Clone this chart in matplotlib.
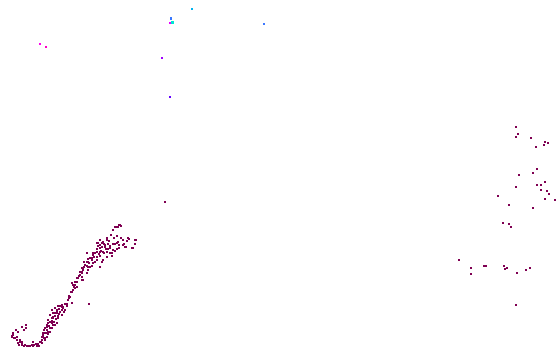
import matplotlib.pyplot as plt
import numpy as np

# main strip (bottom left), x / y in chart units
strip_x = [119.3, 116.7, 121.3, 112.7, 111, 129, 136, 107.3, 100, 101.7, 96.7, 105, 115, 126, 132.7,
           123.3, 110, 116.7, 106.7, 100, 95, 96.7, 91.7, 86.7, 110, 101.7, 95, 88.3, 85, 81.7, 90, 80,
           83.3, 80, 81.7, 76.7, 75, 76.7, 73.3, 70, 68.3, 71.7, 66.7, 63.3, 60, 55, 51.7, 65, 56.7,
           53.3, 50, 58.3, 53.3, 48.3, 51.7, 46.7, 55, 50, 45, 48.3, 43.3, 46.7, 42.7, 45, 41.7, 38.3,
           33.3, 26.7, 21.7, 18.3, 20, 15, 11.7, 16, 26, 21.7, 26,
           70.7, 69.3, 67.7, 65, 61.7, 58.3, 66.7, 63.3, 56.7, 60, 55, 61.7, 53.3, 58.3, 51.7, 56.7,
           48.3, 53.3, 46.7, 51.7, 44.3, 50, 46.7, 43.3, 41.7, 45, 41, 38.3, 36.7, 31.7, 28.3, 25, 21.7,
           18.3, 20, 16.7, 13.3, 11.7, 17.7, 25.7, 24.3, 33.3,
           120, 118.3, 115, 113.3, 111, 128.3, 135, 106.7, 103.3, 98.3, 108.3, 116.7, 105, 100, 108.3,
           113.3, 125, 96.7, 103.3, 111.7, 93.3, 100, 106.7, 90, 96.7, 103.3, 86.7, 93.3, 85, 91.7, 100,
           83.3, 88.3, 81.7, 86.7, 80, 78.3, 83.3, 75, 73.3, 76.7, 75, 71.7, 81.7, 88.3, 135, 123.3,
           119, 131.7, 89,
           98, 102, 106, 110, 113, 118, 121, 104, 99, 94, 92, 89, 87, 84, 82, 79, 77, 74, 72, 69, 62,
           59, 57, 55, 52, 50, 56, 54, 49, 47, 45, 44, 42, 40, 36, 34, 30, 24, 19, 14, 13, 97, 101,
           107, 112, 115, 119, 124, 127, 93, 88, 84, 62, 64, 59, 52, 48, 39, 22, 17, 117, 114, 109,
           104, 100]
strip_y = [224.7, 226.7, 226, 230, 235, 238.7, 239.7, 238.3, 240, 243.3, 243.3, 245, 244, 246.7, 247.7,
           245, 248.3, 249.3, 251.7, 251.7, 253.3, 256.7, 258.3, 253.3, 253.3, 261.7, 261.7, 261.7, 265,
           268.3, 266.7, 271.7, 270, 275, 280, 278.3, 285, 287.3, 290, 296.7, 300, 302.7, 304.3, 306.7,
           306, 308.3, 310, 310, 311.7, 313.3, 315, 316, 318.3, 320, 323.3, 325, 325, 328.3, 328.3,
           331.7, 333.3, 336.7, 336.7, 340, 343.3, 345, 346, 346, 345, 343.3, 341.7, 338.3, 336, 330,
           325, 327.3, 328.3,
           291.7, 296, 300, 304, 305, 306, 306, 308.3, 310, 311.7, 313.3, 315, 316.7, 318.3, 320.7,
           322.7, 323.3, 325, 326.7, 328.3, 330, 331.7, 333.3, 335, 337.3, 338.3, 341.7, 344, 346, 345,
           346, 345, 344, 342.7, 340, 336.7, 335, 336.7, 331.7, 325, 330, 341.7,
           225, 227.3, 227.3, 230, 235, 238.3, 240, 240, 241.7, 242.7, 244, 243.3, 246.7, 248.3, 249.3,
           250, 246.7, 251.7, 251.7, 253.3, 255, 256, 256.7, 258.3, 260, 260, 261.7, 262.7, 265, 266,
           266.7, 268.3, 270, 271.7, 273.3, 275, 278.3, 280, 281.7, 285, 286.7, 288.3, 283.3, 276.7,
           266.7, 244, 240, 245, 248.3, 304,
           246, 247, 249, 246, 244, 242, 238, 253, 254, 257, 260, 263, 266, 267, 273, 276, 282, 287,
           292, 298, 307, 309, 313, 316, 318, 322, 319, 322, 326, 330, 333, 338, 340, 342, 344, 345,
           346, 346, 345, 338, 333, 249, 251, 252, 256, 251, 248, 244, 241, 253, 259, 262, 310, 312,
           314, 328, 334, 346, 342, 340, 236, 238, 241, 244, 245]

# scattered group on the right
right_x = [516, 517.7, 516.3, 531.3, 545.3, 547.7, 544.3, 536.3, 537.3, 533.3, 518.7, 545.3, 541.3,
           537.3, 516.3, 541.3, 547.3, 549.3, 498.3, 545, 555.3, 508.7, 533.3, 503, 509.3, 511, 458.7,
           471.3, 470.7, 484.3, 486.3, 504.3, 506.7, 505.3, 517.3, 526.3, 529.7, 516.3, 165]
right_y = [126.7, 133.7, 136.7, 137.7, 142, 143.3, 145, 147.3, 169, 172.7, 175, 181.7, 184.7, 185.3,
           187, 190, 190.7, 193.7, 196, 199.3, 200.3, 205, 207.7, 223, 224, 227.3, 259.7, 268.3, 274.3,
           266, 265.7, 266.3, 268, 269.3, 273, 270, 267.7, 305, 202]

# a few coloured outliers near the top
top_x = [40, 46, 192.3, 171.3, 170.5, 172.5, 264, 162.3, 170.3]
top_y = [44, 46.7, 8.7, 18.5, 23, 22.5, 23.7, 58.3, 96.7]
top_c = ["#ff00ee", "#ff00c8", "#00b4f0", "#3878ff", "#e600ff", "#00e6d2", "#3c78ff", "#a000ff",
         "#6400ff"]

fig = plt.figure(figsize=(5.57, 3.48), dpi=100)
ax = fig.add_axes([0, 0, 1, 1])
ax.scatter(strip_x, strip_y, s=4.5, marker="s", c="#7f0052", linewidths=0)
ax.scatter(right_x, right_y, s=2.5, marker="s", c="#7f0052", linewidths=0)
ax.scatter(top_x, top_y, s=2.5, marker="s", c=top_c, linewidths=0)
ax.set_xlim(0, 557)
ax.set_ylim(348, 0)
ax.axis("off")

plt.savefig("out.png", dpi=100)
